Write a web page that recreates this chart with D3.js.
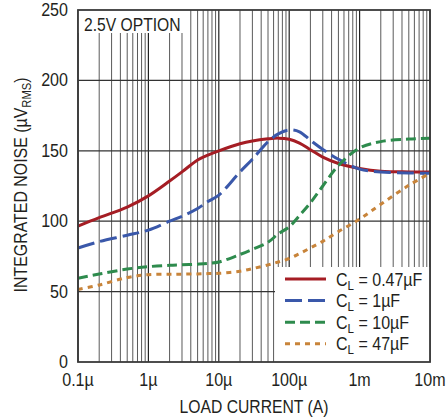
<!DOCTYPE html>
<html>
<head>
<meta charset="utf-8">
<script src="https://cdn.jsdelivr.net/npm/d3@7"></script>
<style>
  html, body { margin: 0; padding: 0; background: #fff; }
  text { font-family: "Liberation Sans", Arial, sans-serif; fill: #231f20; }
</style>
</head>
<body>
<svg id="chart" width="447" height="419"></svg>
<script>
// ---- data ----
const currents = [1e-7, 2e-7, 5e-7, 1e-6, 2e-6, 3e-6, 5e-6, 7e-6, 1e-5, 2e-5, 3e-5, 5e-5, 7e-5, 1e-4, 1.4e-4, 2e-4, 3e-4, 5e-4, 1e-3, 2e-3, 5e-3, 1e-2];
const noise047uF = [96.5, 102.5, 110, 118, 128.5, 135, 143.5, 147, 150, 155, 157, 158.5, 159, 158.2, 155.5, 150.8, 145.5, 141, 137.5, 135.5, 135, 135];
const noise1uF   = [81, 85.5, 90, 93.7, 100, 103.5, 109, 114, 118.5, 135, 144, 156.5, 162, 164.8, 163.5, 157.5, 151, 144, 137, 135, 134.3, 134];
const noise10uF  = [59.5, 62.5, 66, 67.7, 68.7, 69, 69.5, 70, 71, 76.4, 80, 85, 91, 96, 104, 113, 125, 139.5, 152, 156.5, 158.3, 159];
const noise47uF  = [51.5, 54.7, 60, 62, 62.3, 62.4, 62.5, 62.8, 63, 64.5, 66.3, 69, 71, 73.5, 77, 81, 85.7, 92.6, 101.5, 112, 125.5, 134];
const seriesNames = ["0.47µF", "1µF", "10µF", "47µF"];
const xTickValues = [1e-7, 1e-6, 1e-5, 1e-4, 1e-3, 1e-2];
const xTickLabels = ["0.1µ", "1µ", "10µ", "100µ", "1m", "10m"];
const yTickValues = [0, 50, 100, 150, 200, 250];
const optionLabel = "2.5V OPTION";

// ---- styles ----
const seriesStyles = [
  { color: "#a51d24", dash: null },
  { color: "#3a58aa", dash: "17,6" },
  { color: "#2e8b4d", dash: "10,5" },
  { color: "#c8843a", dash: "5,5" }
];
const seriesValues = [noise047uF, noise1uF, noise10uF, noise47uF];

const svg = d3.select("#chart");
const M = { left: 78, right: 430, top: 10, bottom: 362 };

const x = d3.scaleLog().domain([1e-7, 1e-2]).range([M.left, M.right]);
const y = d3.scaleLinear().domain([0, 250]).range([M.bottom, M.top]);

// condensed text helper
function ctext(parent, tx, ty, str, opts) {
  const o = Object.assign({ size: 17.5, sx: 0.9, anchor: "start", rot: 0 }, opts || {});
  const g = parent.append("g")
    .attr("transform", `translate(${tx},${ty})` + (o.rot ? ` rotate(${o.rot})` : "") + ` scale(${o.sx},1)`);
  const t = g.append("text")
    .attr("x", 0).attr("y", 0)
    .attr("text-anchor", o.anchor)
    .style("font-size", o.size + "px");
  if (typeof str === "string") t.text(str);
  else str(t);
  return t;
}

// ---- grid ----
const grid = svg.append("g");
const minorVals = [];
for (let d = -7; d <= -3; d++) {
  for (let m = 2; m <= 9; m++) minorVals.push(m * Math.pow(10, d));
}
grid.selectAll("line.minor").data(minorVals).enter().append("line")
  .attr("x1", d => x(d)).attr("x2", d => x(d))
  .attr("y1", M.top).attr("y2", M.bottom)
  .attr("stroke", "#5a5a5a").attr("stroke-width", 1);
grid.selectAll("line.major").data(xTickValues).enter().append("line")
  .attr("x1", d => x(d)).attr("x2", d => x(d))
  .attr("y1", M.top).attr("y2", M.bottom)
  .attr("stroke", "#222").attr("stroke-width", 1.2);
grid.selectAll("line.h").data(yTickValues.slice(1, -1)).enter().append("line")
  .attr("x1", M.left).attr("x2", M.right)
  .attr("y1", d => y(d)).attr("y2", d => y(d))
  .attr("stroke", "#333").attr("stroke-width", 1.2);

// ---- option label box ----
svg.append("rect").attr("x", M.left).attr("y", M.top).attr("width", 105).attr("height", 23).attr("fill", "#fff");
ctext(svg, 84, 31, optionLabel, { size: 18, sx: 0.87 });

// ---- curves ----
const line = d3.line()
  .x((d, i) => x(currents[i]))
  .y(d => y(d))
  .curve(d3.curveCatmullRom.alpha(0.5));
const curves = svg.append("g");
seriesValues.forEach((vals, k) => {
  curves.append("path")
    .attr("d", line(vals))
    .attr("fill", "none")
    .attr("stroke", seriesStyles[k].color)
    .attr("stroke-width", 3)
    .attr("stroke-dasharray", seriesStyles[k].dash);
});

// ---- legend ----
const leg = svg.append("g");
leg.append("rect").attr("x", 275).attr("y", 267).attr("width", M.right - 275).attr("height", M.bottom - 267).attr("fill", "#fff");
seriesNames.forEach((name, k) => {
  const ry = 279 + k * 21.6;
  leg.append("line")
    .attr("x1", 285).attr("x2", 326).attr("y1", ry).attr("y2", ry)
    .attr("stroke", seriesStyles[k].color).attr("stroke-width", 3)
    .attr("stroke-dasharray", seriesStyles[k].dash);
  ctext(leg, 336, ry + 6.5, t => {
    t.append("tspan").text("C");
    t.append("tspan").attr("dy", 4).style("font-size", "13px").text("L");
    t.append("tspan").attr("dy", -4).text(" = " + name);
  }, { size: 18, sx: 0.89 });
});

// ---- frame ----
svg.append("rect")
  .attr("x", M.left).attr("y", M.top)
  .attr("width", M.right - M.left).attr("height", M.bottom - M.top)
  .attr("fill", "none").attr("stroke", "#3a3a3a").attr("stroke-width", 1.8);

// ---- axes tick labels ----
xTickValues.forEach((v, i) => {
  ctext(svg, x(v), 385.5, xTickLabels[i], { size: 17.5, sx: 0.92, anchor: "middle" });
});
yTickValues.forEach(v => {
  ctext(svg, 68, y(v) + 6, String(v), { size: 17.5, sx: 0.92, anchor: "end" });
});

// ---- axis titles ----
ctext(svg, 254, 412.5, "LOAD CURRENT (A)", { size: 18.5, sx: 0.85, anchor: "middle" });
ctext(svg, 26.5, 185, t => {
  t.append("tspan").text("INTEGRATED NOISE (µV");
  t.append("tspan").attr("dy", 4).style("font-size", "13px").text("RMS");
  t.append("tspan").attr("dy", -4).text(")");
}, { size: 18.5, sx: 0.86, anchor: "middle", rot: -90 });
</script>
</body>
</html>
